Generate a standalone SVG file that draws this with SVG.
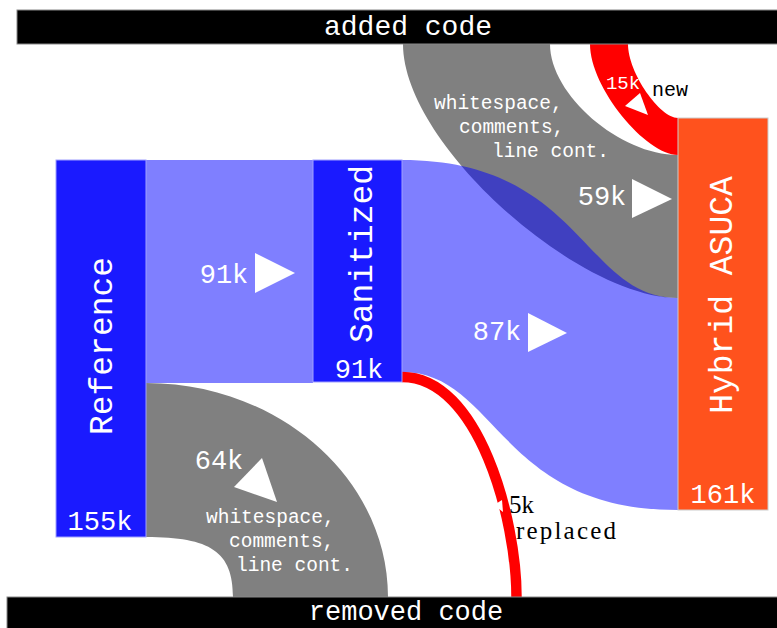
<svg xmlns="http://www.w3.org/2000/svg" width="777" height="628" viewBox="0 0 777 628">
<style>
.mono{font-family:"Liberation Mono","DejaVu Sans Mono",monospace;}
.serif{font-family:"Liberation Serif","DejaVu Serif",serif;}
.wt{fill:#fff}
.bk{fill:#000}
.gray{fill:#808080}
.blue{fill:#0000ff;fill-opacity:0.5}
.red{fill:#ff0000}
.arrow{fill:#fff}
.node{fill:#1a1aff;stroke:#a0a0ff;stroke-width:1}
.hyb{fill:#ff521d;stroke:#cccccc;stroke-width:1}
.bar{fill:#000;stroke:#888;stroke-width:1}
.big{font-size:33px}
.num{font-size:27px}
.small{font-size:19.5px}
</style>
<rect width="777" height="628" fill="#fff"/>
<g id="connectors">
  <path id="flow-added-hybrid" class="gray" d="M403,44 C403,144 578,298 678,298 L678,155 C620,155 550,95 550,44 Z"/>
  <path id="flow-new-hybrid" class="red" d="M590,44 C590,88 646,155 678,155 L678,118 C660,118 628,73 628,44 Z"/>
  <path id="flow-ref-removed" class="gray" d="M146,383 C279,383 388,479 388,597 L233,597 C233,552 211,537 146,537 Z"/>
  <path id="flow-ref-san" class="blue" d="M146,160 L313,160 L313,383 L146,383 Z"/>
  <path id="flow-san-hybrid" class="blue" d="M402,160 C582,160 583,298 678,298 L678,510 C498,510 497,372 402,372 Z"/>
  <path id="flow-san-replaced" d="M402,377 C479,377 516.5,520 516.5,597" fill="none" stroke="#ff0000" stroke-width="10.5"/>

  <g id="label-91k">
    <text class="mono num wt" x="224" y="283" text-anchor="middle">91k</text>
    <polygon class="arrow" points="255,253 255,293 295,273"/>
  </g>
  <g id="label-87k">
    <text class="mono num wt" x="497" y="340" text-anchor="middle">87k</text>
    <polygon class="arrow" points="528,313 528,352 567,333"/>
  </g>
  <g id="label-59k">
    <text class="mono num wt" x="602" y="205" text-anchor="middle">59k</text>
    <polygon class="arrow" points="632,179 632,218 672,199"/>
  </g>
  <g id="label-64k">
    <text class="mono num wt" x="219" y="469" text-anchor="middle">64k</text>
    <polygon class="arrow" points="262,458 234,487 277,502"/>
  </g>
  <g id="label-15k">
    <text class="mono wt" font-size="19" x="623" y="89" text-anchor="middle">15k</text>
    <polygon class="arrow" points="625,106 640,93 648,115"/>
    <text class="mono bk" font-size="20" x="652" y="96">new</text>
  </g>
  <g id="label-5k">
    <polygon class="arrow" points="494,505 502,500 503,512"/>
    <text class="serif bk" font-size="25" x="509" y="513">5k</text>
    <text class="serif bk" font-size="25" x="516" y="539" textLength="100">replaced</text>
  </g>
  <g id="label-ws-top">
    <text class="mono small wt" x="434" y="109">whitespace,</text>
    <text class="mono small wt" x="459" y="133">comments,</text>
    <text class="mono small wt" x="492" y="157">line cont.</text>
  </g>
  <g id="label-ws-bottom">
    <text class="mono small wt" x="206" y="523">whitespace,</text>
    <text class="mono small wt" x="229" y="547">comments,</text>
    <text class="mono small wt" x="236" y="571">line cont.</text>
  </g>
</g>
<g id="node-reference">
  <rect class="node" x="56" y="160" width="90" height="377"/>
  <text class="mono big wt" transform="translate(112,346) rotate(-90)" text-anchor="middle">Reference</text>
  <text class="mono num wt" x="100" y="530" text-anchor="middle">155k</text>
</g>
<g id="node-sanitized">
  <rect class="node" x="313" y="160" width="89" height="222"/>
  <text class="mono big wt" transform="translate(372,254) rotate(-90)" text-anchor="middle">Sanitized</text>
  <text class="mono num wt" x="359" y="378" text-anchor="middle">91k</text>
</g>
<g id="node-hybrid">
  <rect class="hyb" x="678" y="118" width="90" height="392"/>
  <text class="mono big wt" transform="translate(732,295) rotate(-90)" text-anchor="middle">Hybrid ASUCA</text>
  <text class="mono num wt" x="723" y="503" text-anchor="middle">161k</text>
</g>
<g id="node-added">
  <rect class="bar" x="17" y="10" width="770" height="34"/>
  <text class="mono wt" font-size="28" x="408" y="35" text-anchor="middle">added code</text>
</g>
<g id="node-removed">
  <rect class="bar" x="7" y="597" width="780" height="40"/>
  <text class="mono wt" font-size="27" x="406" y="620" text-anchor="middle">removed code</text>
</g>
</svg>
